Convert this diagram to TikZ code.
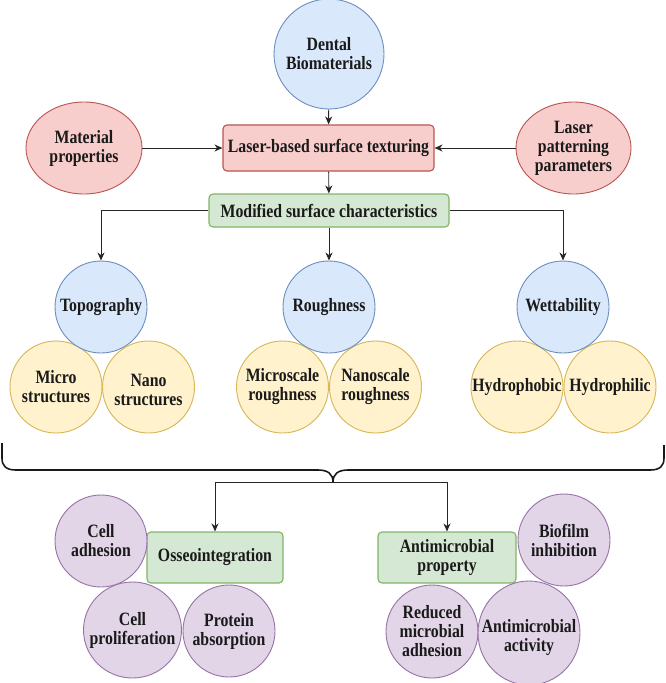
\documentclass[tikz,border=0pt]{standalone}
\usepackage{fontspec}
\setmainfont{Liberation Serif}[BoldFont={Liberation Serif Bold},BoldFeatures={FakeStretch=0.84},FakeStretch=0.84]
\usetikzlibrary{shapes.geometric,arrows.meta}
\definecolor{blueF}{HTML}{DAE8FC}\definecolor{blueD}{HTML}{6C8EBF}
\definecolor{redF}{HTML}{F8CECC}\definecolor{redD}{HTML}{B85450}
\definecolor{greenF}{HTML}{D5E8D4}\definecolor{greenD}{HTML}{82B366}
\definecolor{yelF}{HTML}{FFF2CC}\definecolor{yelD}{HTML}{D6B656}
\definecolor{purF}{HTML}{E1D5E7}\definecolor{purD}{HTML}{9673A6}
\definecolor{ink}{HTML}{1A1A1A}
\tikzset{
  txt/.style={font=\rmfamily\fontsize{18.8}{19}\selectfont\bfseries, align=center, text=ink, inner sep=0pt},
  ell/.style={ellipse, line width=0.9pt, inner sep=0pt},
  bx/.style={rectangle, rounded corners=4pt, line width=1.1pt, inner sep=0pt, font=\rmfamily\fontsize{18.8}{19}\selectfont\bfseries, align=center, text=ink},
  blueS/.style={fill=blueF, draw=blueD},
  redS/.style={fill=redF, draw=redD},
  greenS/.style={fill=greenF, draw=greenD},
  yelS/.style={fill=yelF, draw=yelD},
  purS/.style={fill=purF, draw=purD},
  conn/.style={draw=black!85, line width=0.9pt},
  arr/.style={conn, -{Stealth[length=8pt,width=7pt,inset=2.5pt]}},
  brc/.style={draw=black!90, line width=1.6pt, line join=round},
}
\begin{document}
\begin{tikzpicture}[x=1pt,y=-1pt]
\useasboundingbox (0,0) rectangle (666,683);
% top part
\node[ell,blueS,minimum width=110pt,minimum height=110pt] (dental) at (329,54) {};
\node[txt] (dentalT) at (dental) {Dental\\Biomaterials};
\node[bx,redS,minimum width=211pt,minimum height=46pt] (laser) at (328.5,148) {Laser-based surface texturing};
\node[ell,redS,minimum width=116pt,minimum height=92pt] (mat) at (84,148) {};
\node[txt] (matT) at (mat) {Material\\properties};
\node[ell,redS,minimum width=115pt,minimum height=92pt] (lpp) at (573.5,148) {};
\node[txt] (lppT) at (lpp) {Laser\\patterning\\parameters};
\node[bx,greenS,minimum width=240pt,minimum height=33pt] (mod) at (329,210.5) {Modified surface characteristics};
% middle row
\node[ell,yelS,minimum width=92pt,minimum height=92pt] (micro) at (56,387) {};
\node[txt] (microT) at (micro) {Micro\\structures};
\node[ell,yelS,minimum width=92pt,minimum height=92pt] (nano) at (148.5,387) {};
\node[txt] (nanoT) at ([yshift=-3pt]nano) {Nano\\structures};
\node[ell,yelS,minimum width=92pt,minimum height=92pt] (mscale) at (282.5,387) {};
\node[txt] (mscaleT) at (mscale) {Microscale\\roughness};
\node[ell,yelS,minimum width=92pt,minimum height=92pt] (nscale) at (375.5,387) {};
\node[txt] (nscaleT) at (nscale) {Nanoscale\\roughness};
\node[ell,yelS,minimum width=92pt,minimum height=92pt] (hphob) at (517,387) {};
\node[txt] (hphobT) at (hphob) {Hydrophobic};
\node[ell,yelS,minimum width=92pt,minimum height=92pt] (hphil) at (610,387) {};
\node[txt] (hphilT) at (hphil) {Hydrophilic};
\node[ell,blueS,minimum width=92pt,minimum height=92pt] (topo) at (101,307) {};
\node[txt] (topoT) at (topo) {Topography};
\node[ell,blueS,minimum width=92pt,minimum height=92pt] (rough) at (329,307) {};
\node[txt] (roughT) at (rough) {Roughness};
\node[ell,blueS,minimum width=92pt,minimum height=92pt] (wet) at (563,307) {};
\node[txt] (wetT) at (wet) {Wettability};
% bottom
\node[bx,greenS,minimum width=136pt,minimum height=51pt] (osseo) at (215,557.5) {Osseointegration};
\node[bx,greenS,minimum width=138pt,minimum height=51pt] (antim) at (447,557.5) {Antimicrobial\\property};
\node[ell,purS,minimum width=92pt,minimum height=92pt] (celladh) at (101,541) {};
\node[txt] (celladhT) at (celladh) {Cell\\adhesion};
\node[ell,purS,minimum width=98pt,minimum height=96pt] (cellpro) at (132.5,630) {};
\node[txt] (cellproT) at (cellpro) {Cell\\proliferation};
\node[ell,purS,minimum width=92pt,minimum height=92pt] (protein) at (229,631) {};
\node[txt] (proteinT) at (protein) {Protein\\absorption};
\node[ell,purS,minimum width=92pt,minimum height=92pt] (biofilm) at (564,540) {};
\node[txt] (biofilmT) at (biofilm) {Biofilm\\inhibition};
\node[ell,purS,minimum width=92pt,minimum height=93pt] (reduced) at (432,631.5) {};
\node[txt] (reducedT) at (reduced) {Reduced\\microbial\\adhesion};
\node[ell,purS,minimum width=102pt,minimum height=104pt] (amact) at (529,633) {};
\node[txt] (amactT) at ([yshift=-4pt]amact) {Antimicrobial\\activity};
% connectors
\draw[arr] (dental) -- (laser);
\draw[arr] (mat) -- (laser);
\draw[arr] (lpp) -- (laser);
\draw[arr] (laser) -- (mod);
\draw[arr] (mod.west) -| (topo.north);
\draw[arr] (mod) -- (rough);
\draw[arr] (mod.east) -| (wet.north);
% brace
\coordinate (bracetip) at (333,482);
\draw[brc] (2,443) -- (2,458) .. controls (2,466) and (6,470) .. (16,470) -- (318,470)
  .. controls (328,470) and (333,474) .. (bracetip)
  .. controls (333,474) and (338,470) .. (348,470) -- (650,470)
  .. controls (660,470) and (664,466) .. (664,458) -- (664,445);
\draw[arr] (bracetip) -| (osseo.north);
\draw[arr] (bracetip) -| (antim.north);
\end{tikzpicture}
\end{document}
